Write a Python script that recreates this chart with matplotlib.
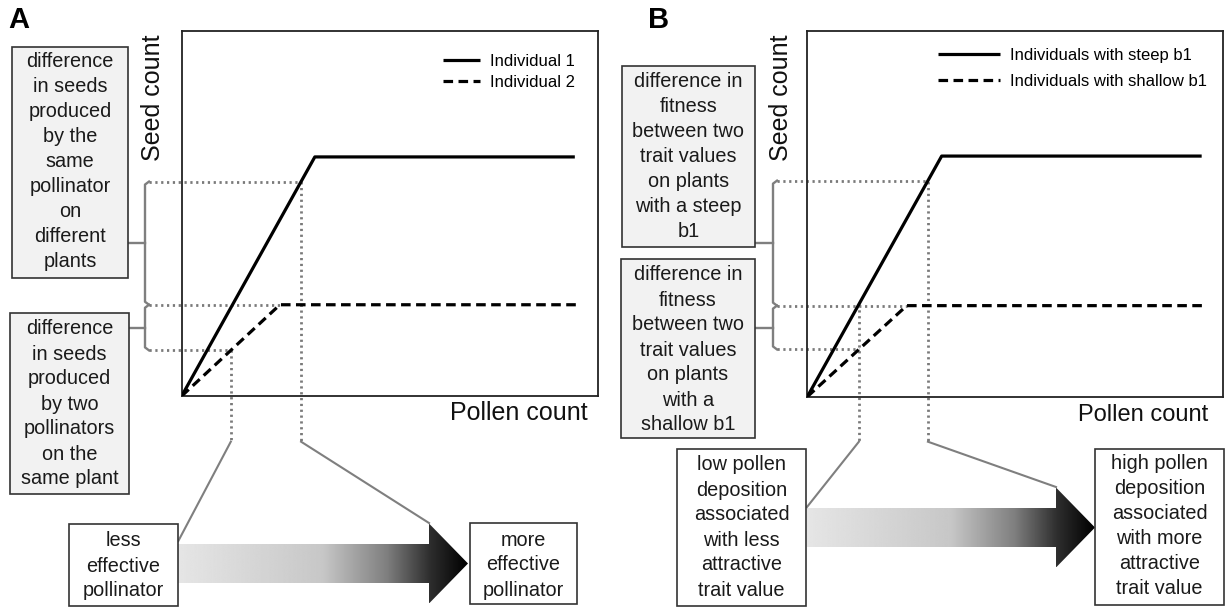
import numpy as np
import matplotlib.pyplot as plt
from matplotlib.patches import Rectangle, Polygon

plt.rcParams['font.family'] = ['Liberation Sans', 'DejaVu Sans']

W, H = 1225, 607

# Panel A: seed count vs pollen count for two individuals
pollen_a1 = [0, 3.2, 9.45]
seeds_a1 = [0, 6.55, 6.55]
pollen_a2 = [0, 2.36, 9.5]
seeds_a2 = [0, 2.5, 2.5]
labels_a = ["Individual 1", "Individual 2"]
low_a, high_a = 1.18, 2.87   # pollen deposited by the two pollinators

# Panel B: steep vs shallow b1
pollen_b1 = [0, 3.23, 9.48]
seeds_b1 = [0, 6.58, 6.58]
pollen_b2 = [0, 2.39, 9.49]
seeds_b2 = [0, 2.49, 2.49]
labels_b = ["Individuals with steep b1", "Individuals with shallow b1"]
low_b, high_b = 1.24, 2.90

text_a_top = "difference\nin seeds\nproduced\nby the\nsame\npollinator\non\ndifferent\nplants"
text_a_bot = "difference\nin seeds\nproduced\nby two\npollinators\non the\nsame plant"
text_a_less = "less\neffective\npollinator"
text_a_more = "more\neffective\npollinator"
text_b_top = "difference in\nfitness\nbetween two\ntrait values\non plants\nwith a steep\nb1"
text_b_bot = "difference in\nfitness\nbetween two\ntrait values\non plants\nwith a\nshallow b1"
text_b_low = "low pollen\ndeposition\nassociated\nwith less\nattractive\ntrait value"
text_b_high = "high pollen\ndeposition\nassociated\nwith more\nattractive\ntrait value"

# gradient of the arrows (position along arrow, grey level)
grad_t = [0.0, 0.5, 0.72, 0.87, 1.0]
grad_g = [0.90, 0.78, 0.50, 0.18, 0.0]

DOT = dict(color='#7a7a7a', lw=2.0, ls=(0, (0.8, 1.3)), clip_on=False, zorder=1)
GREY = '#7f7f7f'

fig = plt.figure(figsize=(W / 100, H / 100), dpi=100)
over = fig.add_axes([0, 0, 1, 1])
over.axis('off')
over.set_xlim(0, W)
over.set_ylim(H, 0)


def chart_axes(left, top, right, bottom):
    ax = fig.add_axes([left / W, 1 - bottom / H, (right - left) / W, (bottom - top) / H])
    ax.set_xlim(0, 10)
    ax.set_ylim(0, 10)
    ax.set_xticks([])
    ax.set_yticks([])
    for s in ax.spines.values():
        s.set_linewidth(1.3)
        s.set_color('#222222')
    return ax


def to_px(ax, x, y):
    dx, dy = ax.transData.transform((x, y))
    return dx, H - dy


def to_data(ax, px, py):
    return ax.transData.inverted().transform((px, H - py))


def box(x0, y0, x1, y1, fill, text, cy):
    over.add_patch(Rectangle((x0, y0), x1 - x0, y1 - y0, facecolor=fill,
                             edgecolor='#333333', lw=1.2, zorder=3))
    over.text((x0 + x1) / 2, cy, text, ha='center', va='center', fontsize=14.3,
              linespacing=1.4, color='#1a1a1a', zorder=4)


def bracket(x, ytop, ybot, xbox):
    over.plot([x + 4, x, x, x + 4], [ytop, ytop + 3, ybot - 3, ybot],
              color=GREY, lw=1.7, solid_joinstyle='round', zorder=2)
    over.plot([xbox, x], [(ytop + ybot) / 2] * 2, color=GREY, lw=1.7, zorder=2)


def grad_arrow(x0, xh, x1, yc, body_h, head_h):
    verts = [(x0, yc - body_h / 2), (xh, yc - body_h / 2), (xh, yc - head_h / 2),
             (x1, yc), (xh, yc + head_h / 2), (xh, yc + body_h / 2), (x0, yc + body_h / 2)]
    poly = Polygon(verts, closed=True, facecolor='none', edgecolor='none')
    over.add_patch(poly)
    t = np.linspace(0, 1, 500)
    g = np.tile(np.interp(t, grad_t, grad_g), (2, 1))
    im = over.imshow(g, cmap='gray', vmin=0, vmax=1, aspect='auto',
                     extent=[x0, x1, yc + head_h / 2, yc - head_h / 2],
                     interpolation='bilinear', zorder=2)
    im.set_clip_path(poly)


def panel(ax, p1, s1, p2, s2, labels, low, high, bracket_x, low_on_solid, leg_anchor,
          handlelength, labelspacing):
    ax.plot(p1, s1, color='black', lw=2.3, solid_capstyle='butt', zorder=3, label=labels[0])
    ax.plot(p2, s2, color='black', lw=2.3, ls=(0, (3, 1.7)), zorder=3, label=labels[1])
    ax.legend(loc='upper left', bbox_to_anchor=leg_anchor, frameon=False, fontsize=12,
              borderpad=0, borderaxespad=0, handlelength=handlelength,
              handletextpad=0.6, labelspacing=labelspacing)

    y_high = np.interp(high, p1, s1)
    y_plat = s2[1]
    y_low = np.interp(low, p2, s2)
    y_low_top = np.interp(low, p1, s1) if low_on_solid else y_low
    xb, drop = to_data(ax, bracket_x + 4, 441.7)

    ax.plot([xb, high, high], [y_high, y_high, drop], **DOT)
    ax.plot([xb, p2[1]], [y_plat, y_plat], **DOT)
    ax.plot([xb, low], [y_low, y_low], **DOT)
    ax.plot([low, low], [y_low_top, drop], **DOT)

    py_high = to_px(ax, 0, y_high)[1]
    py_plat = to_px(ax, 0, y_plat)[1]
    py_low = to_px(ax, 0, y_low)[1]
    return py_high, py_plat, py_low, to_px(ax, low, drop), to_px(ax, high, drop)


axA = chart_axes(181.7, 31, 597.7, 396)
axB = chart_axes(807.3, 31, 1223.3, 396.7)

# ---- Panel A
yh, yp, yl, low_pt, high_pt = panel(axA, pollen_a1, seeds_a1, pollen_a2, seeds_a2, labels_a,
                                    low_a, high_a, 145, False, (0.628, 0.937), 2.2, 0.38)
bracket(145, yh, yp, 128)
bracket(145, yp, yl, 129)
box(12, 47, 128, 278, '#f2f2f2', text_a_top, 161.5)
box(10, 313, 129, 494, '#f2f2f2', text_a_bot, 404)
box(69, 524, 178, 606, 'white', text_a_less, 566)
box(470, 523, 577, 604, 'white', text_a_more, 565)
grad_arrow(178, 429, 468, 563.5, 39, 80)
over.plot([low_pt[0], 178.3], [low_pt[1], 541], color=GREY, lw=1.5, zorder=2)
over.plot([high_pt[0], 429], [high_pt[1], 523], color=GREY, lw=1.5, zorder=2)
over.text(153, 98, "Seed count", rotation=90, ha='center', va='center', fontsize=18, color='#111111')
over.text(588, 413, "Pollen count", ha='right', va='center', fontsize=18, color='#111111')
over.text(8, 20, "A", ha='left', va='center', fontsize=21, fontweight='bold')

# ---- Panel B
yh, yp, yl, low_pt, high_pt = panel(axB, pollen_b1, seeds_b1, pollen_b2, seeds_b2, labels_b,
                                    low_b, high_b, 773, True, (0.314, 0.953), 3.7, 0.62)
bracket(773, yh, yp, 755)
bracket(773, yp, yl, 755)
box(622, 66, 755, 247, '#f2f2f2', text_b_top, 156.5)
box(621, 259, 755, 438, '#f2f2f2', text_b_bot, 350)
box(677, 449, 806, 606, 'white', text_b_low, 527.5)
box(1095, 449, 1224, 605, 'white', text_b_high, 526)
grad_arrow(807, 1056, 1095, 527.5, 39, 80)
over.plot([low_pt[0], 807], [low_pt[1], 507], color=GREY, lw=1.5, zorder=2)
over.plot([high_pt[0], 1056], [high_pt[1], 487], color=GREY, lw=1.5, zorder=2)
over.text(781, 98, "Seed count", rotation=90, ha='center', va='center', fontsize=18, color='#111111')
over.text(1208, 415, "Pollen count", ha='right', va='center', fontsize=17, color='#111111')
over.text(648, 20, "B", ha='left', va='center', fontsize=21, fontweight='bold')

over.set_xlim(0, W)
over.set_ylim(H, 0)

fig.savefig("out.png", dpi=100)
